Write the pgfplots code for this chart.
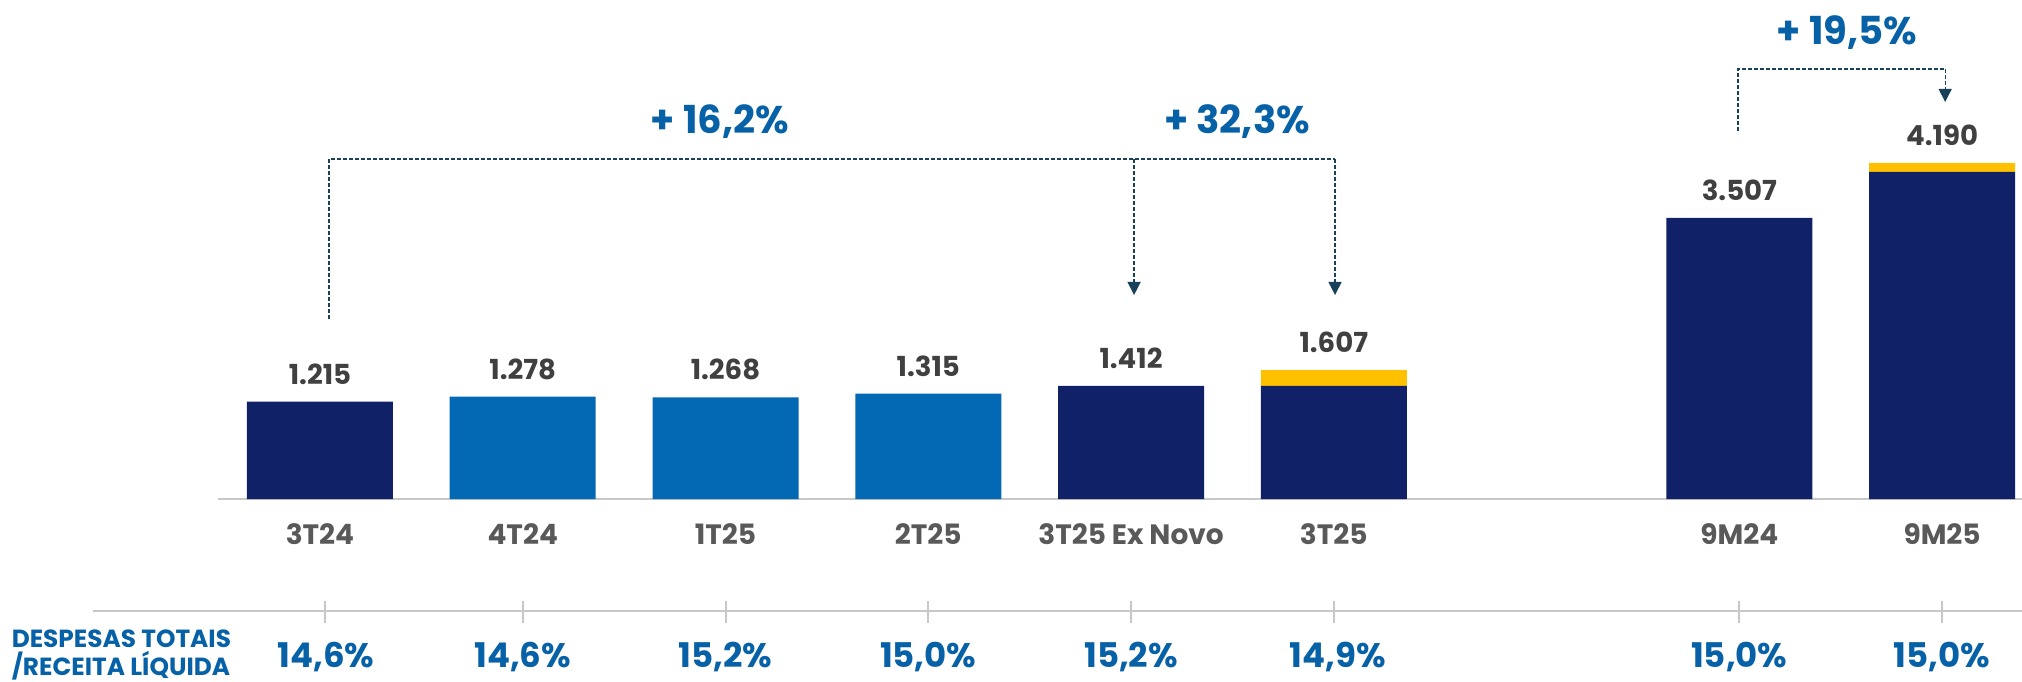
\documentclass[border=0pt]{standalone}
\usepackage{pgfplots}
\pgfplotsset{compat=1.18}
\usetikzlibrary{arrows.meta}
\usepackage{fontspec}
\setmainfont{Poppins}
\definecolor{navy}{RGB}{16,33,104}
\definecolor{mblue}{RGB}{4,105,180}
\definecolor{gold}{RGB}{255,192,0}
\definecolor{valgray}{RGB}{64,64,64}
\definecolor{catgray}{RGB}{89,89,89}
\definecolor{pctblue}{RGB}{6,97,167}
\definecolor{arrteal}{RGB}{24,66,92}
\definecolor{lgray}{RGB}{200,200,200}
\begin{document}
\begin{tikzpicture}
\begin{axis}[
  scale only axis, width=1011pt, height=340.5pt,
  xmin=-1.578, xmax=8.394, ymin=-2269, ymax=6222,
  axis lines=none, clip=false,
  ybar stacked, bar width=0.72,
]
\addplot[fill=navy, draw=none] coordinates {(0,1215) (1,0) (2,0) (3,0) (4,1412) (5,1412) (7,3507) (8,4080)};
\addplot[fill=mblue, draw=none] coordinates {(0,0) (1,1278) (2,1268) (3,1315) (4,0) (5,0) (7,0) (8,0)};
\addplot[fill=gold, draw=none] coordinates {(0,0) (1,0) (2,0) (3,0) (4,0) (5,195) (7,0) (8,110)};

% baseline
\draw[lgray, line width=1pt] (axis cs:-0.503,0) -- (axis cs:8.394,0);

% value labels
\node[anchor=base, text=valgray, font=\fontsize{13.8}{16}\selectfont\bfseries] at (axis cs:0,1433) {1.215};
\node[anchor=base, text=valgray, font=\fontsize{13.8}{16}\selectfont\bfseries] at (axis cs:1,1496) {1.278};
\node[anchor=base, text=valgray, font=\fontsize{13.8}{16}\selectfont\bfseries] at (axis cs:2,1486) {1.268};
\node[anchor=base, text=valgray, font=\fontsize{13.8}{16}\selectfont\bfseries] at (axis cs:3,1533) {1.315};
\node[anchor=base, text=valgray, font=\fontsize{13.8}{16}\selectfont\bfseries] at (axis cs:4,1630) {1.412};
\node[anchor=base, text=valgray, font=\fontsize{13.8}{16}\selectfont\bfseries] at (axis cs:5,1825) {1.607};
\node[anchor=base, text=valgray, font=\fontsize{13.8}{16}\selectfont\bfseries] at (axis cs:7,3725) {3.507};
\node[anchor=base, text=valgray, font=\fontsize{13.8}{16}\selectfont\bfseries] at (axis cs:8,4408) {4.190};

% category labels
\node[anchor=base, text=catgray, font=\fontsize{14}{16}\selectfont\bfseries] at (axis cs:0,-567) {3T24};
\node[anchor=base, text=catgray, font=\fontsize{14}{16}\selectfont\bfseries] at (axis cs:1,-567) {4T24};
\node[anchor=base, text=catgray, font=\fontsize{14}{16}\selectfont\bfseries] at (axis cs:2,-567) {1T25};
\node[anchor=base, text=catgray, font=\fontsize{14}{16}\selectfont\bfseries] at (axis cs:3,-567) {2T25};
\node[anchor=base, text=catgray, font=\fontsize{14}{16}\selectfont\bfseries] at (axis cs:4,-567) {3T25 Ex Novo};
\node[anchor=base, text=catgray, font=\fontsize{14}{16}\selectfont\bfseries] at (axis cs:5,-567) {3T25};
\node[anchor=base, text=catgray, font=\fontsize{14}{16}\selectfont\bfseries] at (axis cs:7,-567) {9M24};
\node[anchor=base, text=catgray, font=\fontsize{14}{16}\selectfont\bfseries] at (axis cs:8,-567) {9M25};

% table line and ticks
\draw[lgray, line width=1pt] (axis cs:-1.12,-1397) -- (axis cs:8.394,-1397);
\draw[lgray, line width=1pt] (axis cs:0.025,-1272) -- (axis cs:0.025,-1546);
\draw[lgray, line width=1pt] (axis cs:1,-1272) -- (axis cs:1,-1546);
\draw[lgray, line width=1pt] (axis cs:2,-1272) -- (axis cs:2,-1546);
\draw[lgray, line width=1pt] (axis cs:3,-1272) -- (axis cs:3,-1546);
\draw[lgray, line width=1pt] (axis cs:4,-1272) -- (axis cs:4,-1546);
\draw[lgray, line width=1pt] (axis cs:5,-1272) -- (axis cs:5,-1546);
\draw[lgray, line width=1pt] (axis cs:7,-1272) -- (axis cs:7,-1546);
\draw[lgray, line width=1pt] (axis cs:8,-1272) -- (axis cs:8,-1546);

% ratio labels
\node[anchor=base, text=pctblue, font=\fontsize{17}{20}\selectfont\bfseries] at (axis cs:0.03,-2095) {14,6\%};
\node[anchor=base, text=pctblue, font=\fontsize{17}{20}\selectfont\bfseries] at (axis cs:1,-2095) {14,6\%};
\node[anchor=base, text=pctblue, font=\fontsize{17}{20}\selectfont\bfseries] at (axis cs:2,-2095) {15,2\%};
\node[anchor=base, text=pctblue, font=\fontsize{17}{20}\selectfont\bfseries] at (axis cs:3,-2095) {15,0\%};
\node[anchor=base, text=pctblue, font=\fontsize{17}{20}\selectfont\bfseries] at (axis cs:4,-2095) {15,2\%};
\node[anchor=base, text=pctblue, font=\fontsize{17}{20}\selectfont\bfseries] at (axis cs:5.02,-2095) {14,9\%};
\node[anchor=base, text=pctblue, font=\fontsize{17}{20}\selectfont\bfseries] at (axis cs:7,-2095) {15,0\%};
\node[anchor=base, text=pctblue, font=\fontsize{17}{20}\selectfont\bfseries] at (axis cs:8,-2095) {15,0\%};
\node[anchor=base west, text=pctblue, font=\fontsize{12.4}{14}\selectfont\bfseries, inner sep=0pt] at (axis cs:-1.522,-1855) {DESPESAS TOTAIS};
\node[anchor=base west, text=pctblue, font=\fontsize{12.4}{14}\selectfont\bfseries, inner sep=0pt] at (axis cs:-1.522,-2195) {/RECEITA LÍQUIDA};

% brackets
\draw[arrteal, line width=0.65pt, dash pattern=on 2pt off 1pt] (axis cs:0.044,2245) -- (axis cs:0.044,4240) -- (axis cs:5.006,4240);
\draw[arrteal, line width=0.65pt, dash pattern=on 2pt off 1pt, -{Triangle[width=6.5pt,length=6.5pt]}] (axis cs:4.015,4240) -- (axis cs:4.015,2544);
\draw[arrteal, line width=0.65pt, dash pattern=on 2pt off 1pt, -{Triangle[width=6.5pt,length=6.5pt]}] (axis cs:5.006,4240) -- (axis cs:5.006,2544);
\draw[arrteal, line width=0.65pt, dash pattern=on 2pt off 1pt] (axis cs:6.994,4589) -- (axis cs:6.994,5362) -- (axis cs:8.015,5362);
\draw[arrteal, line width=0.65pt, dash pattern=on 2pt off 1pt, -{Triangle[width=6.5pt,length=6.5pt]}] (axis cs:8.015,5362) -- (axis cs:8.015,4951);

\node[anchor=base, text=pctblue, font=\fontsize{19.3}{22}\selectfont\bfseries] at (axis cs:1.973,4552) {+ 16,2\%};
\node[anchor=base, text=pctblue, font=\fontsize{19.3}{22}\selectfont\bfseries] at (axis cs:4.523,4552) {+ 32,3\%};
\node[anchor=base, text=pctblue, font=\fontsize{19.3}{22}\selectfont\bfseries] at (axis cs:7.531,5661) {+ 19,5\%};
\end{axis}
\pgfresetboundingbox
\path[use as bounding box] (current axis.south west) rectangle (current axis.north east);
\end{tikzpicture}
\end{document}
